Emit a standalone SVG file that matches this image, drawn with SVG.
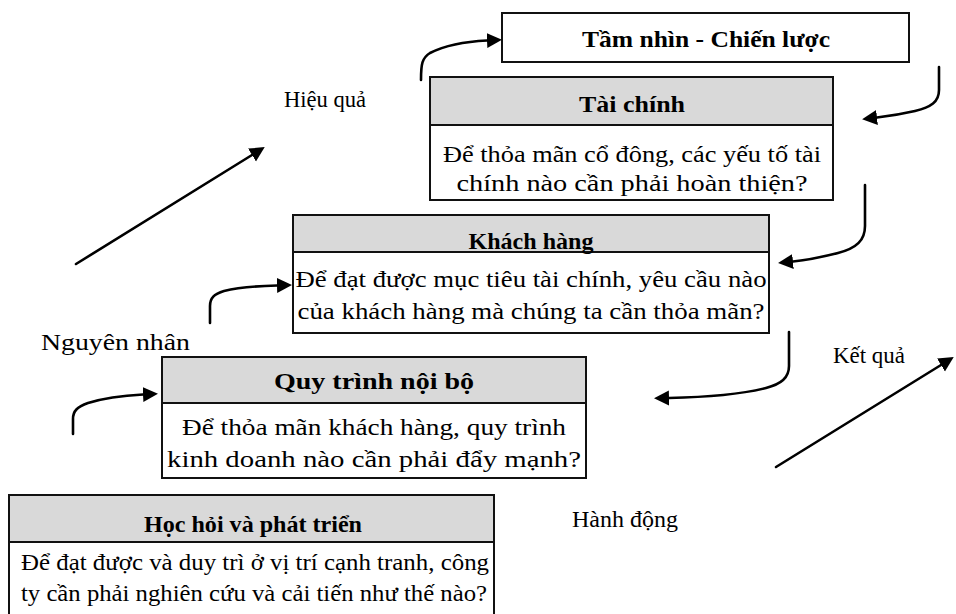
<svg xmlns="http://www.w3.org/2000/svg" width="956" height="614" viewBox="0 0 956 614">
  <defs>
    <marker id="head" markerUnits="userSpaceOnUse" markerWidth="18" markerHeight="18" refX="0" refY="7.5" orient="auto">
      <path d="M0,0 L15,7.5 L0,15 z" fill="#000"/>
    </marker>
    <style>
      text { font-family: "Liberation Serif", "DejaVu Serif", serif; font-size: 24px; fill: #000; }
      .title { font-weight: bold; text-anchor: middle; }
      .body { text-anchor: middle; }
      .box { fill: #fff; stroke: #111; stroke-width: 2; }
      .head { fill: #d9d9d9; stroke: #111; stroke-width: 2; }
      .conn path, .conn line { fill: none; stroke: #000; stroke-width: 2.6; stroke-linecap: round; marker-end: url(#head); }
    </style>
  </defs>

  <rect width="956" height="614" fill="#fff"/>

  <!-- Vision and strategy -->
  <g id="vision">
    <rect class="box" x="502" y="13" width="407" height="49"/>
    <text class="title" x="706" y="47" textLength="248" lengthAdjust="spacingAndGlyphs">Tầm nhìn - Chiến lược</text>
  </g>

  <!-- Finance perspective -->
  <g id="finance">
    <rect class="box" x="430" y="77" width="403" height="123"/>
    <rect class="head" x="430" y="77" width="403" height="48"/>
    <text class="title" x="632" y="112" textLength="106" lengthAdjust="spacingAndGlyphs">Tài chính</text>
    <text class="body" x="632" y="162" textLength="378" lengthAdjust="spacingAndGlyphs">Để thỏa mãn cổ đông, các yếu tố tài</text>
    <text class="body" x="632" y="191" textLength="351" lengthAdjust="spacingAndGlyphs">chính nào cần phải hoàn thiện?</text>
  </g>

  <!-- Customer perspective -->
  <g id="customer">
    <rect class="box" x="293" y="215" width="476" height="118"/>
    <rect class="head" x="293" y="215" width="476" height="37"/>
    <text class="title" x="531" y="249" textLength="125" lengthAdjust="spacingAndGlyphs">Khách hàng</text>
    <text class="body" x="531" y="287" textLength="471" lengthAdjust="spacingAndGlyphs">Để đạt được mục tiêu tài chính, yêu cầu nào</text>
    <text class="body" x="531" y="319" textLength="467" lengthAdjust="spacingAndGlyphs">của khách hàng mà chúng ta cần thỏa mãn?</text>
  </g>

  <!-- Internal process perspective -->
  <g id="process">
    <rect class="box" x="162" y="357" width="424" height="121"/>
    <rect class="head" x="162" y="357" width="424" height="46"/>
    <text class="title" x="374" y="389" textLength="200" lengthAdjust="spacingAndGlyphs">Quy trình nội bộ</text>
    <text class="body" x="374" y="435" textLength="384" lengthAdjust="spacingAndGlyphs">Để thỏa mãn khách hàng, quy trình</text>
    <text class="body" x="374" y="467" textLength="414" lengthAdjust="spacingAndGlyphs">kinh doanh nào cần phải đẩy mạnh?</text>
  </g>

  <!-- Learning and growth perspective -->
  <g id="learning">
    <rect class="box" x="9" y="495" width="485" height="130"/>
    <rect class="head" x="9" y="495" width="485" height="47"/>
    <text class="title" x="253" y="532" textLength="218" lengthAdjust="spacingAndGlyphs">Học hỏi và phát triển</text>
    <text class="body" x="255" y="570" textLength="468" lengthAdjust="spacingAndGlyphs">Để đạt được và duy trì ở vị trí cạnh tranh, công</text>
    <text class="body" x="254" y="601" textLength="466" lengthAdjust="spacingAndGlyphs">ty cần phải nghiên cứu và cải tiến như thế nào?</text>
  </g>

  <!-- Side labels -->
  <g id="labels">
    <text x="284" y="107" textLength="82" lengthAdjust="spacingAndGlyphs">Hiệu quả</text>
    <text x="41" y="350" textLength="149" lengthAdjust="spacingAndGlyphs">Nguyên nhân</text>
    <text x="833" y="363" textLength="72" lengthAdjust="spacingAndGlyphs">Kết quả</text>
    <text x="572" y="527" textLength="106" lengthAdjust="spacingAndGlyphs">Hành động</text>
  </g>

  <!-- Connectors -->
  <g id="connectors" class="conn">
    <path d="M421,80 C421,64 422,58 430,53 C446,45 466,41.5 487,40.5"/>
    <path d="M939,67 L939,90 C939,102 931,107 915,111 C902,114 890,116 877,117.5"/>
    <line x1="76" y1="264" x2="252" y2="155"/>
    <path d="M865,185 L865,226 C865,240 857,248 838,253 C822,257 808,260 793,261.5"/>
    <path d="M210,323 L210,306 C210,298 214,294 224,291 C240,287 258,286 277,285.5"/>
    <path d="M73,434 L73,419 C73,411 77,407 88,403 C104,398 124,395.5 143,394.5"/>
    <path d="M789,332 L789,366 C789,378 781,384 766,388 C742,394 712,397 669,398"/>
    <line x1="776" y1="467" x2="941" y2="365"/>
  </g>
</svg>
